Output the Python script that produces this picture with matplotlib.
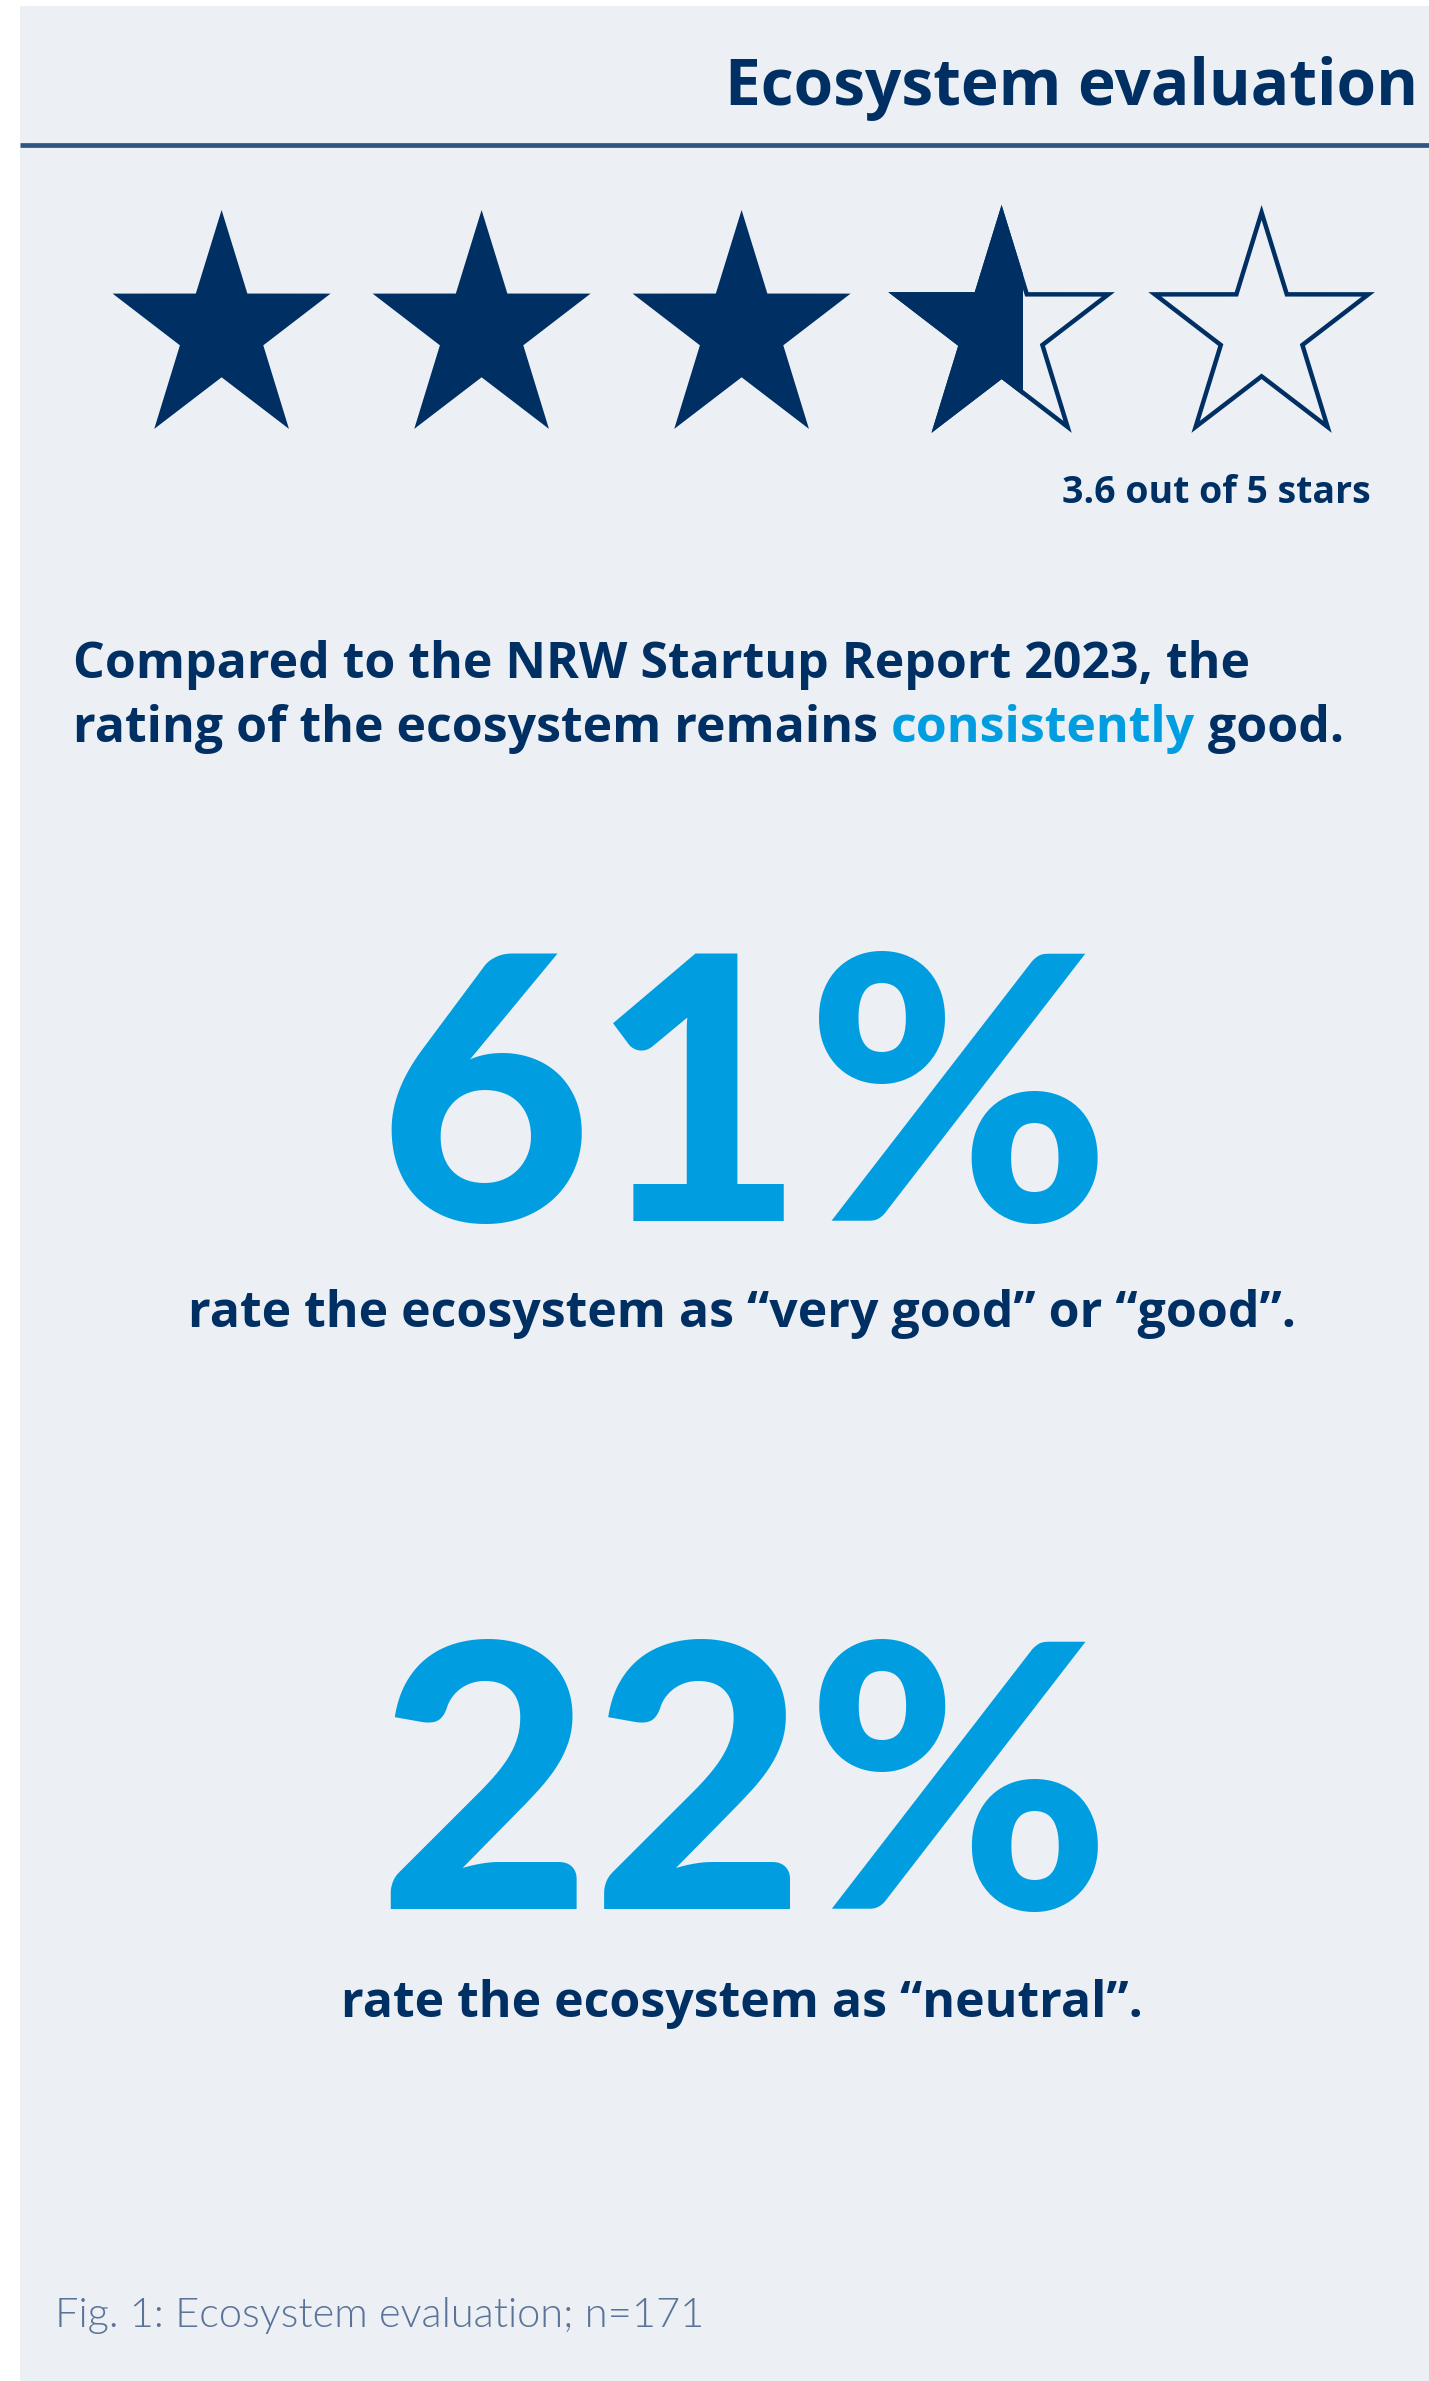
import matplotlib
matplotlib.use("Agg")
import matplotlib.pyplot as plt
from matplotlib.patches import Polygon, Rectangle
import numpy as np

# ---- content -------------------------------------------------------------
title = "Ecosystem evaluation"
rating = 3.6
max_stars = 5
rating_label = f"{rating} out of {max_stars} stars"

headline_line1 = [("Compared to the NRW Startup Report 2023, the", "navy")]
headline_line2 = [("rating of the ecosystem remains ", "navy"),
                  ("consistently", "blue"),
                  (" good.", "navy")]

share_values = [61, 22]
share_texts = ["rate the ecosystem as \u201cvery good\u201d or \u201cgood\u201d.",
               "rate the ecosystem as \u201cneutral\u201d."]

sample_size = 171
footer = f"Fig. 1: Ecosystem evaluation; n={sample_size}"

# ---- style ---------------------------------------------------------------
W, H = 1429, 2381
NAVY = "#003063"
BLUE = "#009EE0"
PANEL = "#ECEFF4"
RULE = "#2F5683"
FOOT = "#5A7398"
COLORS = {"navy": NAVY, "blue": BLUE}
BODY = ["Open Sans", "DejaVu Sans"]
FIGS = ["Lato", "DejaVu Sans"]

fig = plt.figure(figsize=(W / 100, H / 100), dpi=100)
fig.patch.set_facecolor("white")
ax = fig.add_axes([0, 0, 1, 1])
ax.set_xlim(0, W)
ax.set_ylim(H, 0)
ax.axis("off")

# background panel
ax.add_patch(Rectangle((20, 6), W - 20, H - 6, facecolor=PANEL, edgecolor="none", zorder=0))

# title and rule
ax.text(1418, 105, title, ha="right", va="baseline", fontsize=46,
        fontweight="bold", color=NAVY, family=BODY)
ax.plot([20, W], [144.5, 144.5], color=RULE, lw=3.4, solid_capstyle="butt")


# ---- star rating ---------------------------------------------------------
def star_vertices(cx, cy, R, r, sx=0.947):
    pts = []
    for k in range(10):
        ang = np.deg2rad(90 + 36 * k)
        rad = R if k % 2 == 0 else r
        pts.append((cx + sx * rad * np.cos(ang), cy - rad * np.sin(ang)))
    return np.array(pts)


R_out, R_in = 121.0, 46.3
x0, dx, cy = 221.6, 260.0, 331.0
for i in range(max_stars):
    cx = x0 + dx * i
    frac = float(np.clip(rating - i, 0, 1))
    if frac >= 1:
        ax.add_patch(Polygon(star_vertices(cx, cy, R_out, R_in), closed=True,
                             facecolor=NAVY, edgecolor="none", zorder=2))
        continue
    verts = star_vertices(cx, cy, R_out - 2.5, R_in - 1.0)
    ax.add_patch(Polygon(verts, closed=True, facecolor="none", edgecolor=NAVY,
                         lw=3.2, joinstyle="miter", zorder=2))
    if frac > 0:
        left = verts[:, 0].min()
        width = (verts[:, 0].max() - left) * frac
        filled = Polygon(verts, closed=True, facecolor=NAVY, edgecolor=NAVY,
                         lw=3.2, joinstyle="miter", zorder=3)
        ax.add_patch(filled)
        clip = Rectangle((left - 10, cy - 200), width + 10, 400, transform=ax.transData)
        filled.set_clip_path(clip)

ax.text(1371, 503, rating_label, ha="right", va="baseline", fontsize=27,
        fontweight="bold", color=NAVY, family=BODY)


# ---- headline with coloured word ----------------------------------------
def coloured_line(x, y, parts, size):
    t = ax.text(x, y, parts[0][0], ha="left", va="baseline", fontsize=size,
                fontweight="bold", color=COLORS[parts[0][1]], family=BODY)
    for s, c in parts[1:]:
        t = ax.annotate(s, xycoords=t, xy=(1, 0), va="bottom", ha="left",
                        fontsize=size, fontweight="bold", color=COLORS[c],
                        family=BODY)
    return t


coloured_line(73, 678, headline_line1, 36)
coloured_line(73, 742, headline_line2, 36)

# ---- key figures -----------------------------------------------------------
value_baselines = [1221, 1909]
text_baselines = [1327, 2017]
for v, s, yb, yt in zip(share_values, share_texts, value_baselines, text_baselines):
    ax.text(744, yb, f"{v}%", ha="center", va="baseline", fontsize=266,
            fontweight="black", color=BLUE, family=FIGS)
    ax.text(742, yt, s, ha="center", va="baseline", fontsize=36,
            fontweight="bold", color=NAVY, family=BODY)

# ---- footnote --------------------------------------------------------------
ax.text(55, 2327, footer, ha="left", va="baseline", fontsize=30,
        fontweight=300, color=FOOT, family=FIGS)

fig.savefig("out.png", dpi=100, facecolor=fig.get_facecolor())
